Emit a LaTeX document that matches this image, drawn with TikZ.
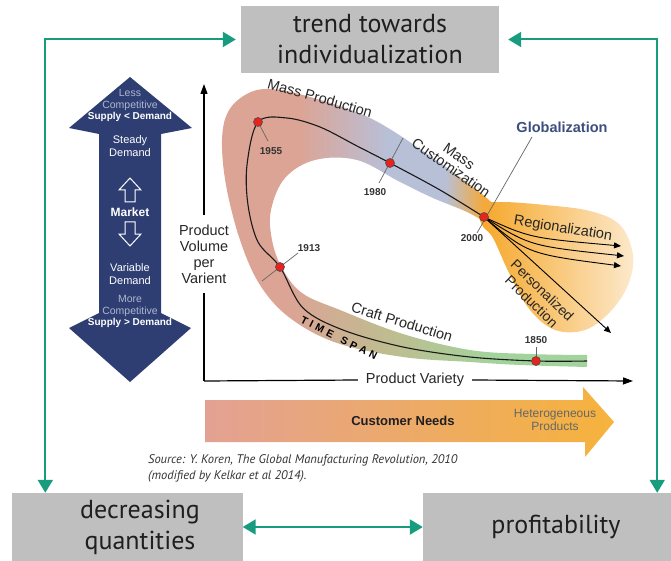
\documentclass[tikz,border=0pt]{standalone}
\usepackage{fontspec}
\setmainfont{Liberation Sans}
\newfontfamily\boxfont{PT Sans}
\usetikzlibrary{arrows.meta}

\definecolor{fhgreen}{HTML}{179C7D}
\definecolor{boxgray}{HTML}{BFBFBF}
\definecolor{navy}{HTML}{2E3E72}
\definecolor{navylight}{HTML}{AEB6CF}
\definecolor{globblue}{HTML}{3B4E7E}
\definecolor{bandpink}{HTML}{DCA495}
\definecolor{bandblue}{HTML}{B8C0D8}
\definecolor{bandorange}{HTML}{F4A93A}
\definecolor{bandolive}{HTML}{BFBC90}
\definecolor{bandgreen}{HTML}{A3D39C}
\definecolor{fanorange}{HTML}{F5A524}
\definecolor{fanlight}{HTML}{FCE9CC}
\definecolor{needpink}{HTML}{E3A194}
\definecolor{needorange}{HTML}{F6B33C}
\definecolor{dotred}{HTML}{E8221D}

% colour runs along the two arms of the time-span band
\pgfdeclarehorizontalshading{upperband}{100bp}{color(0bp)=(bandpink); color(25bp)=(bandpink); color(40bp)=(bandpink); color(56bp)=(bandblue); color(66bp)=(bandblue); color(73bp)=(bandorange); color(100bp)=(bandorange)}
\pgfdeclarehorizontalshading{lowerband}{100bp}{color(0bp)=(bandpink); color(25bp)=(bandpink); color(35bp)=(bandpink); color(48bp)=(bandolive); color(62bp)=(bandgreen); color(100bp)=(bandgreen)}

\begin{document}
\begin{tikzpicture}[x=1pt,y=-1pt,
  every node/.style={inner sep=0pt},
  graybox/.style={fill=boxgray, inner sep=0pt},
  boxtext/.style={font=\boxfont\fontsize{26}{31}\selectfont, align=center, text=black!88},
  link/.style={draw=fhgreen, line width=2pt, {Triangle[length=13pt,width=15pt]}-{Triangle[length=13pt,width=15pt]}},
  lbl/.style={font=\fontsize{14.5}{16}\selectfont, text=black!85, align=center},
  yearlbl/.style={font=\bfseries\fontsize{10}{11}\selectfont, text=black!80},
  dot/.style={circle, fill=dotred, draw=black!70, line width=0.6pt, minimum size=9pt, inner sep=0pt},
  yeartick/.style={draw=black!60, line width=0.7pt},
  axisline/.style={line width=1.2pt},
  axisarrow/.style={line width=1.2pt, -{Triangle[length=10pt,width=7pt]}},
  fanarrow/.style={line width=0.9pt, -{Triangle[length=7pt,width=6pt]}},
  mkt/.style={text=white, font=\fontsize{11}{13}\selectfont, align=center},
  mktlight/.style={text=navylight, font=\fontsize{10.5}{11.5}\selectfont, align=center},
  mktbold/.style={text=white, font=\bfseries\fontsize{10}{11}\selectfont},
  hollow/.style={draw=white, line width=1pt, line join=miter}
]
\useasboundingbox (0,0) rectangle (671,561);

% ---------- summary boxes and their links ----------
\node[graybox, minimum width=258, minimum height=67] (top) at (370,39.5) {};
\node[boxtext] (toptext) at (370,39.5) {trend towards\\individualization};
\node[graybox, minimum width=231, minimum height=68] (dec) at (127,527) {};
\node[boxtext] (dectext) at (140,527) {decreasing\\quantities};
\node[graybox, minimum width=248, minimum height=68] (prof) at (547,527) {};
\node[boxtext] (proftext) at (556,527) {profitability};

\draw[link, shorten <=5pt] (top.west) -| ([xshift=34pt]dec.north west);
\draw[link, shorten <=9pt] (top.east) -| ([xshift=-14pt]prof.north east);
\draw[link] (dec.east) -- (prof.west);

% ---------- market arrow ----------
\fill[navy] (130,77) -- (192,128) -- (161,134) -- (161,313) -- (191,328) -- (130,382)
  -- (69,328) -- (99,313) -- (99,134) -- (69,128) -- cycle;
\draw[hollow] (130,178) -- (141,190) -- (135,190) -- (135,202) -- (125,202) -- (125,190) -- (119,190) -- cycle;
\draw[hollow] (130,246) -- (141,234) -- (135,234) -- (135,222) -- (125,222) -- (125,234) -- (119,234) -- cycle;
\node[mktlight] (less) at (130,100) {Less\\Competitive};
\node[mktbold] (supless) at (130,117) {Supply < Demand};
\node[mkt] (steady) at (130,146) {Steady\\Demand};
\node[mkt, font=\bfseries\fontsize{12}{13}\selectfont] (market) at (130,212) {Market};
\node[mkt] (variable) at (130,274) {Variable\\Demand};
\node[mktlight] (more) at (130,306) {More\\Competitive};
\node[mktbold] (supmore) at (130,323) {Supply > Demand};

% ---------- axes ----------
\coordinate (origin) at (204,381);
\coordinate (ytip) at (204,84);
\coordinate (xtip) at (633,381);
\node[lbl, inner ysep=9pt] (vlabel) at (204,254) {Product\\Volume\\per\\Varient};
\node[lbl, inner xsep=8pt] (hlabel) at (415,380) {Product Variety};
\draw[axisline] (origin) -- (vlabel.south);
\draw[axisarrow] (vlabel.north) -- (ytip);
\draw[axisline] (origin) -- (hlabel.west);
\draw[axisarrow] (hlabel.east) -- (xtip);

% ---------- orange fan after 2000 ----------
\shade[left color=fanorange, right color=fanlight]
  plot[smooth cycle, tension=0.6] coordinates {(478,206) (500,202) (545,205) (590,211) (620,225)
  (633,255) (628,285) (610,312) (585,330) (555,330) (530,310) (510,275) (493,238) (482,225)};

% ---------- time-span band ----------
\begin{scope}
  \clip plot[smooth, tension=0.6] coordinates {(587,367) (520,365) (470,362) (403,357) (337,343)
    (290,318) (260,285) (240,240) (226,185) (222,140) (228,112) (245,95) (267,89) (303,95)
    (370,118) (433,158) (477,190) (492,203)}
    -- plot[smooth, tension=0.6] coordinates {(490,225) (467,212) (433,198) (400,182) (357,160)
    (315,160) (285,178) (271,210) (272,240) (282,268) (302,293) (340,310) (403,334) (470,350)
    (530,354) (587,355)} -- cycle;
  \shade[shading=upperband] (215,80) rectangle (495,232);
  \shade[shading=lowerband] (215,232) rectangle (590,375);
\end{scope}

% ---------- milestone positions ----------
\coordinate (p1955) at (258,122);
\coordinate (p1980) at (390,163);
\coordinate (p2000) at (484,217);
\coordinate (p1913) at (280,267);
\coordinate (p1850) at (536,361);
\coordinate (bandend) at (587,361);

% ---------- development curve ----------
\draw[line width=1.1pt, black!90] plot[smooth, tension=0.55] coordinates {(bandend) (p1850) (470,357)
  (403,347) (343,330) (303,308) (p1913) (258,242) (248,205) (247,165) (p1955) (287,118)
  (320,127) (357,146) (p1980) (440,190) (p2000)};

% fan-out after 2000
\coordinate (reg1) at (621,246);
\coordinate (reg2) at (624,256);
\coordinate (reg3) at (621,266);
\coordinate (pers) at (611,333);
\draw[fanarrow] (p2000) .. controls (530,238) .. (reg1);
\draw[fanarrow] (p2000) .. controls (530,246) .. (reg2);
\draw[fanarrow] (p2000) .. controls (528,254) .. (reg3);
\draw[fanarrow] (p2000) -- (pers);

% year ticks and globalization line
\coordinate (glob1) at (532,137);
\coordinate (glob2) at (477,233);
\draw[yeartick] (glob1) -- (glob2);
\coordinate (t55) at (268,141);
\draw[yeartick] (p1955) -- (t55);
\coordinate (t80a) at (403,138);
\coordinate (t80b) at (379,183);
\draw[yeartick] (t80a) -- (t80b);
\coordinate (t13a) at (262,281);
\coordinate (t13b) at (298,253);
\draw[yeartick] (t13a) -- (t13b);
\coordinate (t50) at (536,347);
\draw[yeartick] (t50) -- (p1850);

% milestone dots
\node[dot] (y1955) at (p1955) {};
\node[dot] (y1980) at (p1980) {};
\node[dot] (y2000) at (p2000) {};
\node[dot] (y1913) at (p1913) {};
\node[dot] (y1850) at (p1850) {};

% year labels
\node[yearlbl] (l1955) at (271,151) {1955};
\node[yearlbl] (l1980) at (375,192) {1980};
\node[yearlbl] (l2000) at (472,238) {2000};
\node[yearlbl] (l1913) at (309,248) {1913};
\node[yearlbl] (l1850) at (536,340) {1850};

% curve labels
\node[lbl, rotate=-16] (massprod) at (320,98) {Mass Production};
\node[lbl, rotate=-35, font=\fontsize{14.5}{14}\selectfont] (masscust) at (455,162) {Mass\\Customization};
\node[lbl, rotate=-17] (craft) at (402,322) {Craft Production};
\node[lbl, rotate=-9] (regional) at (563,229) {Regionalization};
\node[lbl, rotate=-44, font=\fontsize{14}{15.5}\selectfont] (personal) at (537,296) {Personalized\\Production};
\node[font=\bfseries\fontsize{14.5}{16}\selectfont, text=globblue] (global) at (562,127) {Globalization};
\node[font=\bfseries\fontsize{10.5}{11}\selectfont, rotate=-27, text=black] (timespan) at (339,338)
  {T\hspace{3.5pt}I\hspace{3.5pt}M\hspace{3.5pt}E\hspace{9pt}S\hspace{3.5pt}P\hspace{3.5pt}A\hspace{3.5pt}N};

% ---------- customer needs arrow ----------
\shade[left color=needpink, right color=needorange]
  (205,400) -- (583,400) -- (583,387) -- (614,422) -- (585,457) -- (585,442) -- (205,442) -- cycle;
\node[font=\bfseries\fontsize{13}{14}\selectfont, text=black!88] (needs) at (403,421) {Customer Needs};
\node[font=\fontsize{12}{13.5}\selectfont, text=black!60, align=center] (hetero) at (555,420) {Heterogeneous\\Products};

% ---------- source ----------
\node[anchor=north west, align=left, text=black!80, font=\boxfont\itshape\fontsize{12.5}{16}\selectfont] (source) at (148,454)
  {Source: Y. Koren, The Global Manufacturing Revolution, 2010\\(modified by Kelkar et al 2014).};
\end{tikzpicture}
\end{document}
